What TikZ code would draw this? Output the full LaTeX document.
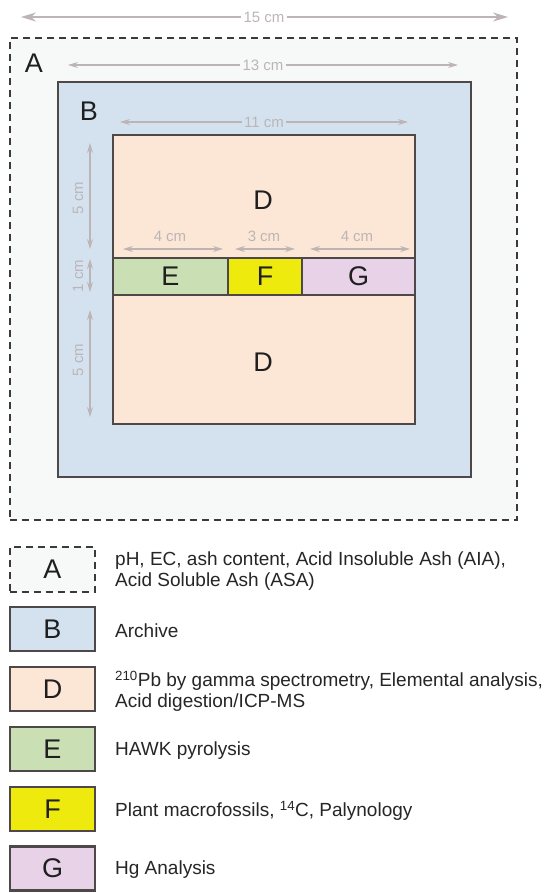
\documentclass[tikz,border=0pt]{standalone}
\usepackage{fontspec}
\setmainfont{Liberation Sans}
\usetikzlibrary{arrows.meta}
\definecolor{afill}{HTML}{F7F8F8}
\definecolor{bfill}{HTML}{D4E2F0}
\definecolor{dfill}{HTML}{FCE6D6}
\definecolor{efill}{HTML}{CADFB4}
\definecolor{ffill}{HTML}{EFEA0E}
\definecolor{gfill}{HTML}{E8D2E8}
\definecolor{dimc}{HTML}{BDB5B5}
\definecolor{edgec}{HTML}{4E4848}
\definecolor{dashc}{HTML}{3A3A3A}
\begin{document}
\begin{tikzpicture}[x=1pt,y=-1pt,
  box/.style={draw=edgec, line width=2.2pt, inner sep=0pt, outer sep=0pt},
  dashbox/.style={draw=dashc, line width=2.2pt, dash pattern=on 7pt off 5pt, fill=afill, inner sep=0pt, outer sep=0pt},
  bigletter/.style={font=\fontsize{27}{27}\selectfont, text=black!88},
  legletter/.style={font=\fontsize{27}{27}\selectfont, text=black!88},
  legtext/.style={font=\fontsize{19}{20.5}\selectfont, text=black!85, anchor=west, align=left, inner sep=0pt},
  dimlabel/.style={font=\fontsize{15}{15}\selectfont, text=dimc, inner sep=2pt},
  dimarrow/.style={draw=dimc, line width=1.4pt, -{Stealth[length=15pt,width=9pt]}},
  dimarrowsm/.style={draw=dimc, line width=1.2pt, -{Stealth[length=10pt,width=6pt]}},
  dimboth/.style={draw=dimc, line width=1.2pt, {Stealth[length=10pt,width=6pt]}-{Stealth[length=10pt,width=6pt]}}
]
\useasboundingbox (0,0) rectangle (555,893);
\fill[white] (0,0) rectangle (555,893);

% ---- main diagram boxes ----
\node[dashbox, minimum width=507pt, minimum height=482pt] (A) at (263.5,279) {};
\node[box, fill=bfill, minimum width=413pt, minimum height=395pt] (B) at (264.5,279.5) {};
\node[box, fill=dfill, minimum width=302pt, minimum height=289pt] (D) at (264,279.5) {};
\node[box, fill=efill, minimum width=115pt, minimum height=37pt] (E) at (170.5,276.5) {};
\node[box, fill=ffill, minimum width=74pt, minimum height=37pt] (F) at (265,276.5) {};
\node[box, fill=gfill, minimum width=113pt, minimum height=37pt] (G) at (358.5,276.5) {};

% ---- letters ----
\node[bigletter] (lA) at (34,63) {A};
\node[bigletter] (lB) at (89,111) {B};
\node[bigletter] (lD1) at (263,200) {D};
\node[bigletter] (lD2) at (263,362) {D};
\node[bigletter] (lE) at (E.center) {E};
\node[bigletter] (lF) at (F.center) {F};
\node[bigletter] (lG) at (G.center) {G};

% ---- horizontal dimensions ----
\coordinate (d15l) at (21,17);   \coordinate (d15r) at (508,17);
\node[dimlabel, fill=white] (t15) at (264,17) {15 cm};
\draw[dimarrow] (t15) -- (d15l);
\draw[dimarrow] (t15) -- (d15r);

\coordinate (d13l) at (68,65);   \coordinate (d13r) at (458,65);
\node[dimlabel, fill=afill] (t13) at (263,65) {13 cm};
\draw[dimarrowsm] (t13) -- (d13l);
\draw[dimarrowsm] (t13) -- (d13r);

\coordinate (d11l) at (120,122);   \coordinate (d11r) at (408,122);
\node[dimlabel, fill=bfill] (t11) at (264,122) {11 cm};
\draw[dimarrowsm] (t11) -- (d11l);
\draw[dimarrowsm] (t11) -- (d11r);

\coordinate (e1) at (123,249); \coordinate (e2) at (223,249);
\coordinate (f1) at (235,249); \coordinate (f2) at (295,249);
\coordinate (g1) at (310,249); \coordinate (g2) at (410,249);
\draw[dimboth] (e1) -- (e2);
\draw[dimboth] (f1) -- (f2);
\draw[dimboth] (g1) -- (g2);
\node[dimlabel] (t4a) at (170,236) {4 cm};
\node[dimlabel] (t3) at (264,236) {3 cm};
\node[dimlabel] (t4b) at (357,236) {4 cm};

% ---- vertical dimensions ----
\coordinate (v1) at (90,143); \coordinate (v2) at (90,249);
\coordinate (v3) at (90,259); \coordinate (v4) at (90,292);
\coordinate (v5) at (90,310); \coordinate (v6) at (90,417);
\draw[dimboth] (v1) -- (v2);
\draw[dimboth] (v3) -- (v4);
\draw[dimboth] (v5) -- (v6);
\node[dimlabel, rotate=90] (tv1) at (78,198) {5 cm};
\node[dimlabel, rotate=90] (tv2) at (78,276) {1 cm};
\node[dimlabel, rotate=90] (tv3) at (78,360) {5 cm};

% ---- legend ----
\node[dashbox, minimum width=85pt, minimum height=45pt] (kA) at (52.5,569.5) {};
\node[legletter] at (kA.center) {A};
\node[box, fill=bfill, minimum width=85pt, minimum height=44pt] (kB) at (52.5,629) {};
\node[legletter] at (kB.center) {B};
\node[box, fill=dfill, minimum width=85pt, minimum height=44pt] (kD) at (52.5,689) {};
\node[legletter] at (kD.center) {D};
\node[box, fill=efill, minimum width=85pt, minimum height=44pt] (kE) at (52.5,749) {};
\node[legletter] at (kE.center) {E};
\node[box, fill=ffill, minimum width=85pt, minimum height=44pt] (kF) at (52.5,809) {};
\node[legletter] at (kF.center) {F};
\node[box, fill=gfill, minimum width=85pt, minimum height=44pt] (kG) at (52.5,868.5) {};
\node[legletter] at (kG.center) {G};

\node[legtext] (xA) at (115,571) {pH, EC, ash content, Acid Insoluble Ash (AIA),\\Acid Soluble Ash (ASA)};
\node[legtext] (xB) at (115,631) {Archive};
\node[legtext] (xD) at (115,691) {\textsuperscript{210}Pb by gamma spectrometry, Elemental analysis,\\Acid digestion/ICP-MS};
\node[legtext] (xE) at (115,751) {HAWK pyrolysis};
\node[legtext] (xF) at (115,811) {Plant macrofossils, \textsuperscript{14}C, Palynology};
\node[legtext] (xG) at (115,870) {Hg Analysis};
\end{tikzpicture}
\end{document}
